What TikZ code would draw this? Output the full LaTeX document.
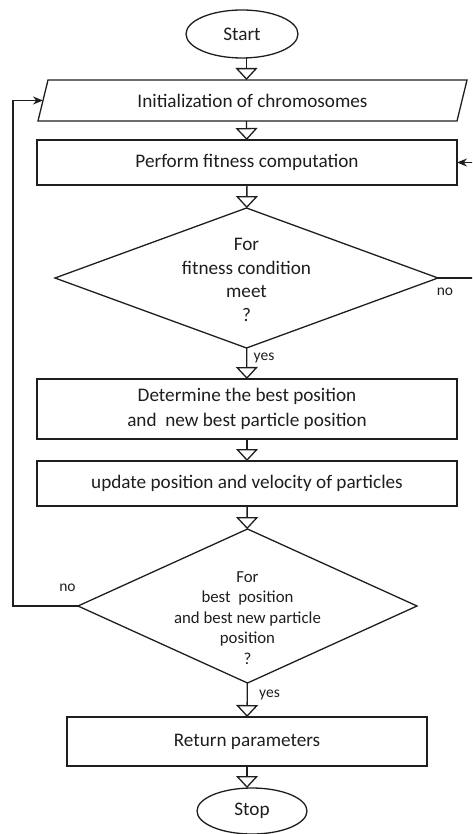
\documentclass[tikz,border=0pt]{standalone}
\usepackage{fontspec}
\setmainfont{Carlito}
\usetikzlibrary{shapes.geometric,arrows.meta}

\definecolor{ink}{HTML}{1E1E1E}

\tikzset{
  base/.style={draw=ink, line width=1.3pt, text=ink, inner sep=0pt, outer sep=0pt,
    font=\fontsize{19.2}{23.5}\selectfont, align=center},
  terminal/.style={base, ellipse},
  process/.style={base, rectangle},
  iobody/.style={base, draw=none, rectangle},
  ioframe/.style={draw=ink, line width=1.3pt, line join=miter},
  decision/.style={base, diamond},
  flow/.style={draw=ink, line width=1.3pt,
    -{Triangle[open, fill=white, length=12pt, width=22pt]}},
  back/.style={draw=ink, line width=1.3pt, -{Stealth[length=10pt, width=8pt]}},
  lbl/.style={text=ink, inner sep=0pt, font=\fontsize{15.5}{18}\selectfont}
}

\begin{document}
\begin{tikzpicture}[x=1pt, y=-1pt]
  \useasboundingbox (0,0) rectangle (472,834);
  \clip (0,0) rectangle (472,834);

  % main column
  \node[terminal, minimum width=112pt, minimum height=48pt] (start) at (242,34) {Start};

  % input/output block: slanted frame drawn around a plain body node
  \node[iobody, minimum width=419pt, minimum height=41pt] (init) at (252.5,100.5)
    {Initialization of chromosomes};
  \draw[ioframe] ([xshift=-5pt]init.south west) -- ([xshift=5pt]init.north west)
    -- ([xshift=5pt]init.north east) -- ([xshift=-5pt]init.south east) -- cycle;

  \node[process, minimum width=420pt, minimum height=45pt] (fit) at (247,162.5)
    {Perform fitness computation};
  \node[decision, minimum width=383pt, minimum height=140pt,
    label={[text=ink, align=center, font=\fontsize{19.2}{23.5}\selectfont, yshift=-2pt]center:For\\fitness condition\\meet\\?}]
    (cond) at (246.5,278) {};
  \node[process, minimum width=420pt, minimum height=60pt,
    font=\fontsize{19.2}{25}\selectfont] (best) at (247,409)
    {Determine the best position\\and~ new best particle position};
  \node[process, minimum width=420pt, minimum height=45pt] (upd) at (247,483.5)
    {update position and velocity of particles};
  \node[decision, minimum width=339pt, minimum height=154pt,
    label={[text=ink, align=center, font=\fontsize{16.8}{20.5}\selectfont, yshift=-12pt]center:For\\best~ position\\and best new particle\\position\\?}]
    (check) at (247.5,606) {};
  \node[process, minimum width=360pt, minimum height=49pt] (ret) at (247,741.5)
    {Return parameters};
  \node[terminal, minimum width=110pt, minimum height=46pt] (stop) at (252,811) {Stop};

  % guide coordinates for the loop-back lines
  \coordinate (lx) at (13,0);
  \coordinate (rx) at (478,0);

  % forward flow
  \draw[flow] (start.south -| cond.north) -- (init.north -| cond.north);
  \draw[flow] (init.south -| cond.north) -- (fit);
  \draw[flow] (fit) -- (cond);
  \draw[flow] (cond) -- (best);
  \draw[flow] (best) -- (upd);
  \draw[flow] (upd) -- (check);
  \draw[flow] (check) -- (ret);
  \draw[flow] (ret.south) -- (ret.south |- stop.north);

  % loop-backs
  \draw[back] (cond.east) -- (cond.east -| rx) |- (fit.east);
  \draw[back] (check.west) -- (check.west -| lx) |- (init.west);

  % branch labels
  \node[lbl] (no1) at (445,292) {no};
  \node[lbl] (yes1) at (264,358) {yes};
  \node[lbl] (no2) at (67.5,588) {no};
  \node[lbl] (yes2) at (269.5,695) {yes};
\end{tikzpicture}
\end{document}
